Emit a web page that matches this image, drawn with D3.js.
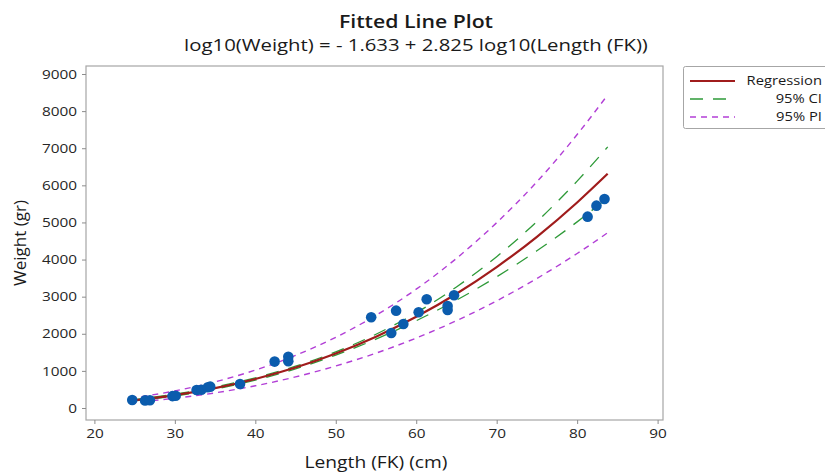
<!DOCTYPE html>
<html>
<head>
<meta charset="utf-8">
<script src="https://cdn.jsdelivr.net/npm/d3@7"></script>
<style>
  html, body { margin: 0; padding: 0; background: #fff; }
  svg { display: block; font-family: "Open Sans", "Noto Sans", sans-serif; }
</style>
</head>
<body>
<div id="chart"></div>
<script>
// observations (Length FK cm, Weight gr)
const lengths = [24.7, 26.3, 26.9, 29.7, 30.1, 32.7, 33.3, 34.1, 34.4, 38.1, 42.4, 44.1, 44.1,
  54.4, 56.9, 57.5, 58.4, 60.3, 61.3, 63.9, 63.9, 64.7, 81.3, 82.4, 83.4]
const weights = [216, 205, 210, 320, 330, 485, 490, 560, 575, 647, 1250, 1383, 1260,
  2445, 2022, 2623, 2264, 2580, 2930, 2750, 2640, 3038, 5156, 5453, 5633]

// fitted curve and bands
const fitX = [24.5, 30, 35, 40, 45, 50, 55, 60, 65, 70, 75, 80, 83.8]
const fitY = [195.6, 346.6, 535.8, 781.1, 1089.8, 1467.9, 1920.9, 2456.7, 3079.4, 3797.0, 4613.4, 5537.9, 6313]
const ciUpper = [214.5, 372.2, 565.0, 812.3, 1125.6, 1512.5, 1988.3, 2566.5, 3262.0, 4078.0, 5023.5, 6114.4, 7034.6]
const ciLower = [178.4, 322.7, 508.2, 751.1, 1055.2, 1424.6, 1855.8, 2351.6, 2907.0, 3535.4, 4236.8, 5015.8, 5665.4]
const piUpper = [262.6, 460.1, 704.7, 1020.3, 1417.0, 1904.1, 2497.6, 3201.6, 4031.6, 4993.9, 6095.6, 7368.2, 8437.9]
const piLower = [145.7, 261.1, 407.4, 598.0, 838.2, 1131.6, 1477.4, 1885.1, 2352.1, 2887.0, 3491.6, 4162.3, 4723.2]

const xTicks = [20, 30, 40, 50, 60, 70, 80, 90]
const yTicks = [0, 1000, 2000, 3000, 4000, 5000, 6000, 7000, 8000, 9000]
const legendLabels = ["Regression", "95% CI", "95% PI"]

const W = 825, H = 472
const frame = { left: 86, top: 66, right: 663, bottom: 420 }

const svg = d3.select("#chart").append("svg")
  .attr("width", W).attr("height", H)

const x = d3.scaleLinear().domain([20, 90]).range([94.4, 657.6])
const y = d3.scaleLinear().domain([0, 9000]).range([408, 74])

// the source picture is a little wider than tall, so widen the text to match
function stretch(sel, f) {
  sel.each(function() {
    const len = this.getComputedTextLength()
    d3.select(this).attr("textLength", len * f).attr("lengthAdjust", "spacingAndGlyphs")
  })
}

// titles
svg.append("text")
  .attr("x", 416).attr("y", 28)
  .attr("text-anchor", "middle")
  .attr("font-size", "18px").attr("font-weight", 600).attr("fill", "#1a1a1a")
  .text("Fitted Line Plot")
  .call(stretch, 1.18)
svg.append("text")
  .attr("x", 416).attr("y", 51)
  .attr("text-anchor", "middle")
  .attr("font-size", "16px").attr("fill", "#1a1a1a")
  .text("log10(Weight) = - 1.633 + 2.825 log10(Length (FK))")
  .call(stretch, 1.27)

// frame
svg.append("rect")
  .attr("x", frame.left).attr("y", frame.top)
  .attr("width", frame.right - frame.left).attr("height", frame.bottom - frame.top)
  .attr("fill", "none").attr("stroke", "#a6a6a6").attr("stroke-width", 1.2)

// axes
const xAxis = svg.append("g")
  .attr("transform", `translate(0,${frame.bottom})`)
  .call(d3.axisBottom(x).tickValues(xTicks).tickSize(4).tickPadding(5))
const yAxis = svg.append("g")
  .attr("transform", `translate(${frame.left},0)`)
  .call(d3.axisLeft(y).tickValues(yTicks).tickFormat(d3.format("d")).tickSize(4).tickPadding(5))

;[xAxis, yAxis].forEach(a => {
  a.select(".domain").remove()
  a.selectAll(".tick line").attr("stroke", "#8c8c8c")
  a.selectAll(".tick text")
    .attr("font-size", "13px").attr("fill", "#262626")
    .attr("font-family", "\"Open Sans\", sans-serif")
    .call(stretch, 1.18)
})

svg.append("text")
  .attr("x", 376).attr("y", 468)
  .attr("text-anchor", "middle")
  .attr("font-size", "16px").attr("fill", "#1a1a1a")
  .text("Length (FK) (cm)")
  .call(stretch, 1.2)
svg.append("text")
  .attr("transform", "translate(26,243) rotate(-90)")
  .attr("text-anchor", "middle")
  .attr("font-size", "17px").attr("fill", "#1a1a1a")
  .text("Weight (gr)")

// lines
const line = d3.line()
  .x((d, i) => x(fitX[i]))
  .y(d => y(d))
  .curve(d3.curveMonotoneX)

const LINES = [
  { data: piUpper, color: "#b23fd6", width: 1.4, dash: "6,5" },
  { data: piLower, color: "#b23fd6", width: 1.4, dash: "6,5" },
  { data: ciUpper, color: "#2e9a38", width: 1.3, dash: "13,10" },
  { data: ciLower, color: "#2e9a38", width: 1.3, dash: "13,10" },
  { data: fitY, color: "#a01c1c", width: 2.2, dash: null }
]

LINES.forEach(l => {
  svg.append("path")
    .attr("d", line(l.data))
    .attr("fill", "none")
    .attr("stroke", l.color)
    .attr("stroke-width", l.width)
    .attr("stroke-dasharray", l.dash)
})

// points
svg.append("g")
  .selectAll("circle")
  .data(lengths)
  .join("circle")
  .attr("cx", d => x(d))
  .attr("cy", (d, i) => y(weights[i]))
  .attr("r", 5.3)
  .attr("fill", "#0b5cad")

// legend
const legend = svg.append("g")
legend.append("rect")
  .attr("x", 683.5).attr("y", 66.5)
  .attr("width", 160).attr("height", 62)
  .attr("rx", 2)
  .attr("fill", "#fff").attr("stroke", "#a6a6a6")

const legendStyles = [LINES[4], LINES[2], LINES[0]]
legendLabels.forEach((lab, i) => {
  const ly = 81 + i * 18
  const st = legendStyles[i]
  legend.append("line")
    .attr("x1", 690).attr("x2", 735)
    .attr("y1", ly).attr("y2", ly)
    .attr("stroke", st.color)
    .attr("stroke-width", st.width)
    .attr("stroke-dasharray", st.dash)
  legend.append("text")
    .attr("x", 822).attr("y", ly + 4)
    .attr("text-anchor", "end")
    .attr("font-size", "12.5px").attr("fill", "#1a1a1a")
    .text(lab)
    .call(stretch, 1.18)
})
</script>
</body>
</html>
